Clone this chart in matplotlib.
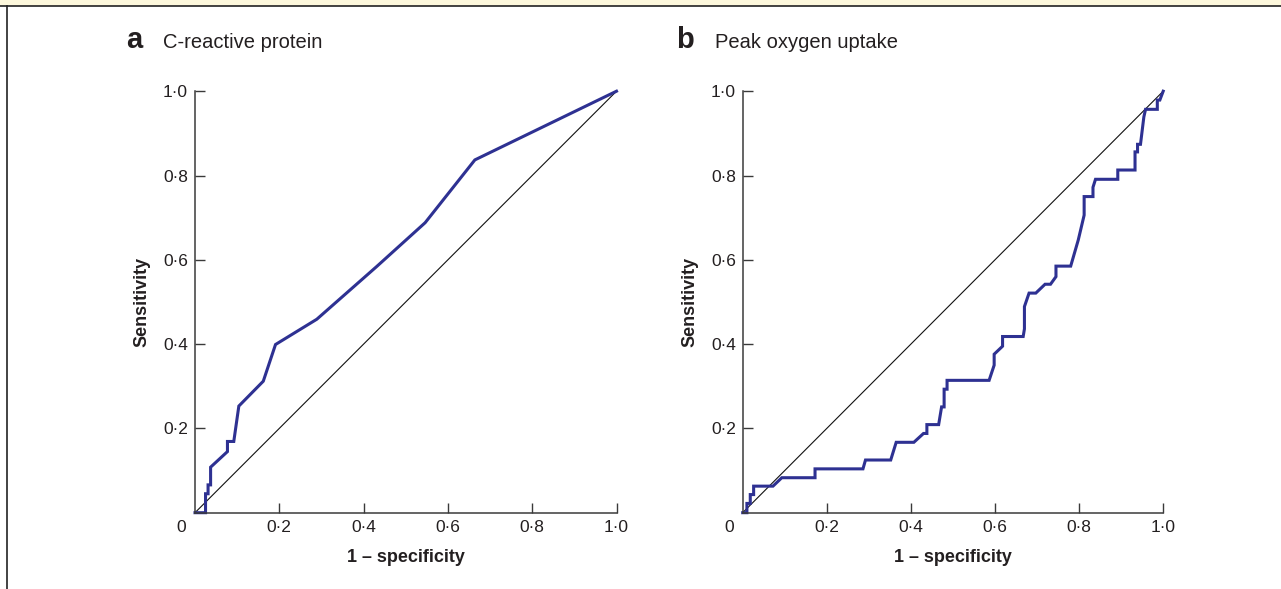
#!/usr/bin/env python3
"""ROC curves for C-reactive protein and peak oxygen uptake."""

import matplotlib

matplotlib.use("Agg", force=True)
import matplotlib.pyplot as plt
from matplotlib.lines import Line2D
from matplotlib.patches import Rectangle

W, H = 1281, 589
BLUE = "#2e3192"
INK = "#231f20"

TICKS = [0.2, 0.4, 0.6, 0.8, 1.0]
TICK_LABELS = ["0\u00b72", "0\u00b74", "0\u00b76", "0\u00b78", "1\u00b70"]

PANEL_LETTERS = ["a", "b"]
PANEL_TITLES = ["C-reactive protein", "Peak oxygen uptake"]

# panel a: C-reactive protein
crp_fpr = [0, 0.025, 0.025, 0.031, 0.031, 0.037, 0.037, 0.077, 0.077, 0.092,
           0.104, 0.162, 0.191, 0.289, 0.431, 0.546, 0.664, 1.0]
crp_tpr = [0, 0, 0.045, 0.045, 0.066, 0.066, 0.108, 0.145, 0.169, 0.169,
           0.253, 0.312, 0.399, 0.459, 0.584, 0.688, 0.837, 1.0]

# panel b: peak oxygen uptake
vo2_fpr = [0, 0.01, 0.01, 0.018, 0.018, 0.026, 0.026, 0.072, 0.093, 0.172,
           0.172, 0.286, 0.292, 0.352, 0.365, 0.407, 0.430, 0.438, 0.438, 0.466,
           0.473, 0.479, 0.479, 0.486, 0.486, 0.586, 0.598, 0.598, 0.618, 0.618,
           0.667, 0.670, 0.670, 0.681, 0.697, 0.719, 0.732, 0.745, 0.745, 0.780,
           0.798, 0.812, 0.812, 0.833, 0.833, 0.839, 0.892, 0.892, 0.933, 0.933,
           0.939, 0.939, 0.946, 0.954, 0.958, 0.986, 0.986, 0.992, 1.0]
vo2_tpr = [0, 0, 0.022, 0.022, 0.043, 0.043, 0.063, 0.063, 0.083, 0.083,
           0.104, 0.104, 0.125, 0.125, 0.167, 0.167, 0.188, 0.188, 0.209, 0.209,
           0.251, 0.251, 0.293, 0.293, 0.314, 0.314, 0.350, 0.376, 0.395, 0.418,
           0.418, 0.436, 0.489, 0.521, 0.521, 0.542, 0.542, 0.560, 0.585, 0.585,
           0.647, 0.706, 0.750, 0.750, 0.772, 0.791, 0.791, 0.813, 0.813, 0.856,
           0.856, 0.874, 0.874, 0.939, 0.957, 0.957, 0.979, 0.979, 1.0]


def fx(x):
    return x / W


def fy(y):
    return 1 - y / H


def style_axes(ax):
    ax.set_xlim(0, 1)
    ax.set_ylim(0, 1)
    for side in ("top", "right"):
        ax.spines[side].set_visible(False)
    for side in ("left", "bottom"):
        ax.spines[side].set_color("#3a3a3a")
        ax.spines[side].set_linewidth(1.1)
    ax.set_xticks(TICKS, TICK_LABELS)
    ax.set_yticks(TICKS, TICK_LABELS)
    ax.tick_params(direction="in", length=7.5, width=1.0, color="#3a3a3a",
                   labelsize=12.5, labelcolor=INK, pad=5)
    ax.text(-0.033, -0.036, "0", transform=ax.transAxes, ha="center", va="center",
            fontsize=12.5, color=INK)
    ax.set_xlabel("1 \u2013 specificity", fontsize=13, fontweight="bold", color=INK,
                  labelpad=10)
    ax.set_ylabel("Sensitivity", fontsize=13, fontweight="bold", color=INK,
                  labelpad=9)


def main():
    plt.rcParams["font.family"] = ["Liberation Sans", "DejaVu Sans"]
    fig = plt.figure(figsize=(W / 100, H / 100), dpi=100)

    # page furniture: yellow band and box border
    fig.patches.append(Rectangle((0, fy(6)), 1, 6 / H, transform=fig.transFigure,
                                 facecolor="#fdf8dc", edgecolor="none"))
    fig.lines.append(Line2D([0, 1], [fy(6), fy(6)], transform=fig.transFigure,
                            color="#222222", linewidth=1.2))
    fig.lines.append(Line2D([fx(7), fx(7)], [0, fy(6)], transform=fig.transFigure,
                            color="#222222", linewidth=1.2))

    ax_a = fig.add_axes([fx(195), fy(512.7), 421.5 / W, 421.5 / H])
    ax_b = fig.add_axes([fx(742.7), fy(512.7), 420.5 / W, 421.5 / H])

    for ax, fpr, tpr in ((ax_a, crp_fpr, crp_tpr), (ax_b, vo2_fpr, vo2_tpr)):
        ax.plot([0, 1], [0, 1], color="#111111", linewidth=0.8, clip_on=False)
        ax.plot(fpr, tpr, color=BLUE, linewidth=2.2, clip_on=False,
                solid_joinstyle="miter")
        style_axes(ax)

    for letter_x, title_x, letter, title in ((126, 163, PANEL_LETTERS[0], PANEL_TITLES[0]),
                                             (676, 715, PANEL_LETTERS[1], PANEL_TITLES[1])):
        fig.text(fx(letter_x), fy(48.5), letter, fontsize=21, fontweight="bold",
                 color=INK, va="baseline", ha="left")
        fig.text(fx(title_x), fy(48.5), title, fontsize=14.5, color=INK,
                 va="baseline", ha="left")

    fig.savefig("out.png", dpi=100)
    plt.close(fig)


if __name__ == "__main__":
    main()
